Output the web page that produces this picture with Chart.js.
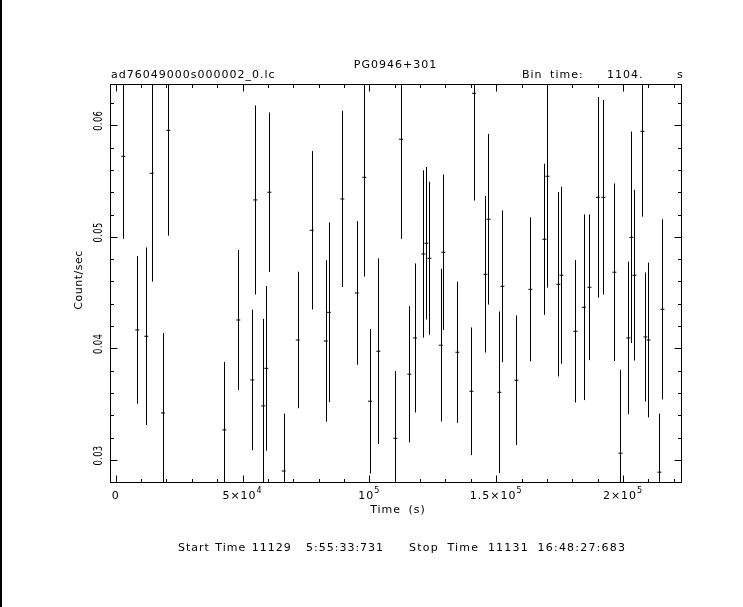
<!DOCTYPE html>
<html>
<head>
<meta charset="utf-8">
<script src="https://cdn.jsdelivr.net/npm/chart.js@4/dist/chart.umd.min.js"></script>
<style>
  html, body { margin: 0; padding: 0; background: #fff; }
  #wrap { width: 743px; height: 607px; position: relative; }
</style>
</head>
<body>
<div id="wrap"><canvas id="c" width="743" height="607"></canvas></div>
<script>
// ---- data ----
const times = [2997, 8517, 12066, 14195, 18650, 20740, 42821, 48341, 53862, 55044,
  58199, 59382, 60564, 66242, 71763, 77283, 82803, 83986, 89350, 95026,
  98023, 100270, 103543, 110246, 112494, 115766, 118014, 121287, 122470, 123652,
  128148, 129173, 134693, 140213, 141278, 145733, 146916, 151253, 152436, 157957,
  163477, 168997, 170180, 174517, 175700, 181220, 184532, 186740, 190053, 192261,
  196598, 198963, 202118, 203301, 204484, 207638, 208821, 210004, 214341, 215524];
const rates = [0.05722, 0.04166, 0.04109, 0.0557, 0.03422, 0.05955, 0.0327, 0.04255, 0.03718, 0.05331,
  0.03485, 0.03822, 0.054, 0.02902, 0.04076, 0.05059, 0.04067, 0.04324, 0.0534, 0.04497,
  0.05534, 0.03527, 0.03975, 0.03195, 0.05875, 0.03769, 0.04094, 0.04847, 0.04943, 0.04808,
  0.04029, 0.04862, 0.03966, 0.03616, 0.06287, 0.04665, 0.05158, 0.03607, 0.04557, 0.03715,
  0.0453, 0.04978, 0.05543, 0.04575, 0.04656, 0.04154, 0.04369, 0.04548, 0.05355, 0.05355,
  0.04683, 0.03061, 0.04094, 0.04996, 0.04656, 0.05946, 0.04103, 0.04076, 0.02891, 0.04351];
const errors = [0.0074, 0.00661, 0.00796, 0.00971, 0.00717, 0.00944, 0.00609, 0.00627, 0.0063, 0.00847,
  0.0078, 0.00738, 0.00715, 0.00514, 0.00612, 0.0071, 0.00724, 0.00805, 0.0079, 0.00644,
  0.0089, 0.00648, 0.00832, 0.00603, 0.00893, 0.00611, 0.00668, 0.0075, 0.00684, 0.00686,
  0.00684, 0.00697, 0.00633, 0.00572, 0.00962, 0.00702, 0.00765, 0.00724, 0.0068, 0.00581,
  0.00645, 0.00677, 0.00998, 0.00827, 0.00793, 0.00639, 0.00832, 0.00653, 0.00899, 0.00872,
  0.00796, 0.00747, 0.00683, 0.00948, 0.00765, 0.00765, 0.00578, 0.00693, 0.00525, 0.00808];

const xMajorTicks = [0, 50000, 100000, 150000, 200000];
const xTickLabels = ["0", "5×10^4", "10^5", "1.5×10^5", "2×10^5"];
const xMinorStep = 10000;
const yMajorTicks = [0.03, 0.04, 0.05, 0.06];
const yTickLabels = ["0.03", "0.04", "0.05", "0.06"];
const yMinorStep = 0.002;

const titleText = "PG0946+301";
const fileText = "ad76049000s000002_0.lc";
const binLabel = "Bin time:";
const binValue = "1104.";
const binUnit = "s";
const xTitle = "Time (s)";
const yTitle = "Count/sec";
const startText = "Start Time 11129";
const startClock = "5:55:33:731";
const stopText = "Stop Time 11131 16:48:27:683";

const FONT = '"DejaVu Sans"';

function txt(ctx, s, x, y, o) {
  o = o || {};
  ctx.save();
  ctx.translate(x, y);
  if (o.rot) ctx.rotate(o.rot);
  ctx.scale(o.sx || 1, 1);
  ctx.font = (o.size || 11) + 'px ' + FONT;
  ctx.letterSpacing = (o.ls === undefined ? 1 : o.ls) + 'px';
  ctx.wordSpacing = (o.ws === undefined ? 3 : o.ws) + 'px';
  ctx.textAlign = o.align || 'left';
  ctx.textBaseline = 'alphabetic';
  ctx.fillStyle = '#000';
  ctx.fillText(s, 0, 0);
  ctx.restore();
}

function drawPowLabel(ctx, label, cx, baseline) {
  const parts = label.split('^');
  ctx.save();
  ctx.letterSpacing = '1px';
  ctx.font = '11px ' + FONT;
  const wb = ctx.measureText(parts[0]).width;
  let ws = 0;
  if (parts[1]) { ctx.font = '8px ' + FONT; ws = ctx.measureText(parts[1]).width; }
  ctx.restore();
  const left = cx - (wb + ws) / 2;
  txt(ctx, parts[0], left, baseline, { size: 11 });
  if (parts[1]) txt(ctx, parts[1], left + wb, baseline - 6, { size: 8 });
}

const pgplot = {
  id: 'pgplot',
  afterDatasetsDraw(chart) {
    const ctx = chart.ctx, a = chart.chartArea;
    const xs = chart.scales.x, ys = chart.scales.y;
    ctx.save();
    ctx.beginPath();
    ctx.rect(a.left, a.top, a.right - a.left, a.bottom - a.top);
    ctx.clip();
    ctx.strokeStyle = '#000';
    ctx.lineWidth = 1;
    ctx.beginPath();
    for (let i = 0; i < times.length; i++) {
      const px = Math.round(xs.getPixelForValue(times[i])) + 0.5;
      const y1 = ys.getPixelForValue(rates[i] + errors[i]);
      const y2 = ys.getPixelForValue(rates[i] - errors[i]);
      ctx.moveTo(px, y1);
      ctx.lineTo(px, y2);
    }
    ctx.stroke();
    ctx.restore();
  },
  afterDraw(chart) {
    const ctx = chart.ctx, a = chart.chartArea;
    const xs = chart.scales.x, ys = chart.scales.y;
    const L = Math.round(a.left) + 0.5, R = Math.round(a.right) + 0.5;
    const T = Math.round(a.top) + 0.5, B = Math.round(a.bottom) + 0.5;
    ctx.save();
    ctx.strokeStyle = '#000';
    ctx.lineWidth = 1;
    ctx.strokeRect(L, T, R - L, B - T);
    ctx.beginPath();
    const xmin = xs.min, xmax = xs.max;
    for (let k = Math.ceil(xmin / xMinorStep); k * xMinorStep <= xmax; k++) {
      const v = k * xMinorStep;
      const major = xMajorTicks.indexOf(v) >= 0;
      const len = major ? 7 : 3.5;
      const px = Math.round(xs.getPixelForValue(v)) + 0.5;
      ctx.moveTo(px, B); ctx.lineTo(px, B - len);
      ctx.moveTo(px, T); ctx.lineTo(px, T + len);
    }
    const ymin = ys.min, ymax = ys.max;
    for (let k = Math.ceil(ymin / yMinorStep - 1e-9); k * yMinorStep <= ymax + 1e-12; k++) {
      const v = +(k * yMinorStep).toFixed(6);
      const major = yMajorTicks.some(t => Math.abs(t - v) < 1e-9);
      const len = major ? 7 : 3.5;
      const py = Math.round(ys.getPixelForValue(v)) + 0.5;
      ctx.moveTo(L, py); ctx.lineTo(L + len, py);
      ctx.moveTo(R, py); ctx.lineTo(R - len, py);
    }
    ctx.stroke();
    ctx.restore();

    xMajorTicks.forEach((v, i) => {
      drawPowLabel(ctx, xTickLabels[i], xs.getPixelForValue(v), 499);
    });
    yMajorTicks.forEach((v, i) => {
      const py = ys.getPixelForValue(v);
      txt(ctx, yTickLabels[i], 102, py - 4.5, { rot: -Math.PI / 2, align: 'center', size: 12, sx: 0.7, ls: 0.5 });
    });

    txt(ctx, titleText, (a.left + a.right) / 2, 68, { align: 'center' });
    txt(ctx, fileText, 111, 78);
    txt(ctx, binLabel, 522, 78);
    txt(ctx, binValue, 607, 78);
    txt(ctx, binUnit, 677, 78);
    txt(ctx, xTitle, 398, 513, { align: 'center' });
    txt(ctx, yTitle, 82, 280, { rot: -Math.PI / 2, align: 'center', ls: 0.5 });
    txt(ctx, startText, 178, 550.5, { ws: 1 });
    txt(ctx, startClock, 306, 550.5);
    txt(ctx, stopText, 409, 550.5, { ws: 4, ls: 1.2 });

    ctx.save();
    ctx.fillStyle = '#000';
    ctx.fillRect(0, 0, 2, chart.height);
    ctx.restore();
  }
};

new Chart(document.getElementById('c'), {
  type: 'scatter',
  data: {
    datasets: [{
      data: times.map((t, i) => ({ x: t, y: rates[i] })),
      pointStyle: 'line',
      pointRadius: 2,
      pointHoverRadius: 2,
      borderColor: '#000',
      backgroundColor: '#000',
      borderWidth: 1,
      showLine: false
    }]
  },
  options: {
    responsive: false,
    devicePixelRatio: 1,
    animation: false,
    events: [],
    layout: { padding: { left: 110, top: 84, right: 62, bottom: 125 } },
    plugins: { legend: { display: false }, tooltip: { enabled: false }, title: { display: false } },
    scales: {
      x: { type: 'linear', min: -2247, max: 222843, display: false },
      y: { type: 'linear', min: 0.02803, max: 0.0637, display: false }
    }
  },
  plugins: [pgplot]
});
</script>
</body>
</html>
